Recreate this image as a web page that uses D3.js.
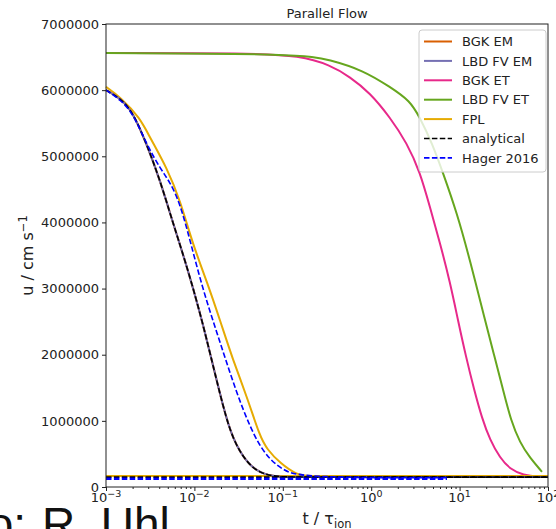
<!DOCTYPE html>
<html>
<head>
<meta charset="utf-8">
<script src="https://cdn.jsdelivr.net/npm/d3@7"></script>
<style>
  body { margin: 0; background: #fff; }
  svg { display: block; font-family: "DejaVu Sans", sans-serif; }
</style>
</head>
<body>
<div id="chart"></div>
<script>
// values, u in cm/s, t in units of tau_ion
const yTicks = [0, 1000000, 2000000, 3000000, 4000000, 5000000, 6000000, 7000000];
const xDecades = [-3, -2, -1, 0, 1, 2];

const emT = [0.001, 0.00144, 0.00202, 0.00291, 0.00408, 0.00573, 0.00825, 0.0116, 0.0150, 0.0211, 0.0273, 0.0394, 0.0552, 0.0859, 0.157, 100];
const emU = [6.00e6, 5.88e6, 5.67e6, 5.17e6, 4.64e6, 3.99e6, 3.33e6, 2.63e6, 2.03e6, 1.21e6, 0.71e6, 0.36e6, 0.21e6, 0.15e6, 0.15e6, 0.15e6];

const analyticalT = [0.001, 0.00144, 0.00202, 0.00291, 0.00408, 0.00573, 0.00825, 0.0116, 0.0150, 0.0211, 0.0273, 0.0394, 0.0552, 0.0859, 0.157, 100];
const analyticalU = [6.00e6, 5.88e6, 5.67e6, 5.17e6, 4.64e6, 3.99e6, 3.33e6, 2.63e6, 2.03e6, 1.21e6, 0.71e6, 0.36e6, 0.21e6, 0.15e6, 0.15e6, 0.15e6];

const bgkEtT = [0.001, 0.0426, 0.157, 0.342, 0.576, 0.969, 1.63, 2.54, 3.57, 4.62, 6.00, 7.78, 9.59, 11.8, 14.6, 17.9, 22.1, 28.6, 37.2, 52.1, 81.2, 100];
const bgkEtU = [6.56e6, 6.56e6, 6.52e6, 6.38e6, 6.20e6, 5.96e6, 5.59e6, 5.20e6, 4.76e6, 4.23e6, 3.69e6, 3.10e6, 2.52e6, 1.97e6, 1.47e6, 1.04e6, 0.71e6, 0.44e6, 0.27e6, 0.18e6, 0.15e6, 0.15e6];

const lbdEtT = [0.001, 0.157, 0.342, 0.808, 1.63, 2.75, 3.57, 4.88, 6.49, 9.35, 13.1, 19.4, 24.5, 31.0, 38.1, 48.2, 62.5, 85.5];
const lbdEtU = [6.56e6, 6.55e6, 6.46e6, 6.30e6, 6.05e6, 5.84e6, 5.58e6, 5.20e6, 4.75e6, 4.14e6, 3.43e6, 2.52e6, 2.00e6, 1.47e6, 1.00e6, 0.67e6, 0.44e6, 0.23e6];

const fplT = [0.001, 0.00144, 0.00243, 0.00315, 0.00490, 0.00687, 0.00964, 0.0139, 0.0195, 0.0273, 0.0394, 0.0552, 0.0663, 0.0930, 0.145, 0.203, 100];
const fplU = [6.05e6, 5.90e6, 5.58e6, 5.28e6, 4.82e6, 4.34e6, 3.66e6, 3.10e6, 2.52e6, 1.92e6, 1.36e6, 0.76e6, 0.57e6, 0.36e6, 0.18e6, 0.15e6, 0.15e6];

const hagerT = [0.001, 0.00144, 0.00202, 0.00291, 0.00408, 0.00530, 0.00687, 0.00892, 0.0125, 0.0180, 0.0253, 0.0355, 0.0511, 0.0716, 0.1005, 0.157, 7.2];
const hagerU = [6.00e6, 5.86e6, 5.65e6, 5.17e6, 4.82e6, 4.61e6, 4.29e6, 3.73e6, 2.98e6, 2.33e6, 1.72e6, 1.16e6, 0.68e6, 0.41e6, 0.26e6, 0.14e6, 0.14e6];

// flat runs along the bottom
const fplBaseT = [0.001, 100];
const fplBaseU = [0.165e6, 0.165e6];
const lbdBaseT = [10, 100];
const lbdBaseU = [0.15e6, 0.15e6];
const analyticalBaseT = [0.001, 100];
const analyticalBaseU = [0.15e6, 0.15e6];
const hagerBaseT = [0.001, 7.2];
const hagerBaseU = [0.125e6, 0.125e6];

const legendNames = ["BGK EM", "LBD FV EM", "BGK ET", "LBD FV ET", "FPL", "analytical", "Hager 2016"];

const colors = {
  "BGK EM": "#d95f02",
  "LBD FV EM": "#7570b3",
  "BGK ET": "#e7298a",
  "LBD FV ET": "#66a61e",
  "FPL": "#e6ab02",
  "analytical": "#000000",
  "Hager 2016": "#0000ff"
};
const dash = "5.5,2.4";

const W = 556, H = 529;
const plot = {left: 106, right: 548, top: 24, bottom: 487};

var x = d3.scaleLog().domain([1e-3, 1e2]).range([plot.left, plot.right]);
var y = d3.scaleLinear().domain([0, 7000000]).range([plot.bottom, plot.top]);

var svg = d3.select("#chart").append("svg")
    .attr("width", W)
    .attr("height", H);

const zip = (ts, us) => ts.map((t, i) => [t, us[i]]);

var line = d3.line()
    .x(d => x(d[0]))
    .y(d => y(d[1]))
    .curve(d3.curveBasis);

// drawing order, bottom to top
const layers = [
  {key: "BGK ET", pts: zip(bgkEtT, bgkEtU), w: 2},
  {key: "LBD FV ET", pts: zip(lbdEtT, lbdEtU), w: 2},
  {key: "FPL", pts: zip(fplBaseT, fplBaseU), w: 2},
  {key: "FPL", pts: zip(fplT, fplU), w: 2},
  {key: "LBD FV ET", pts: zip(lbdBaseT, lbdBaseU), w: 2},
  {key: "BGK EM", pts: zip(emT, emU), w: 2},
  {key: "LBD FV EM", pts: zip(emT, emU), w: 2},
  {key: "analytical", pts: zip(analyticalBaseT, analyticalBaseU), w: 1.6, dash: true},
  {key: "analytical", pts: zip(analyticalT, analyticalU), w: 1.6, dash: true},
  {key: "Hager 2016", pts: zip(hagerBaseT, hagerBaseU), w: 2.6, dash: true},
  {key: "Hager 2016", pts: zip(hagerT, hagerU), w: 1.6, dash: true}
];

var lines = svg.append("g");
layers.forEach(l => {
  lines.append("path")
      .attr("d", line(l.pts))
      .attr("fill", "none")
      .attr("stroke", colors[l.key])
      .attr("stroke-width", l.w)
      .attr("stroke-dasharray", l.dash ? dash : null);
});

// frame
svg.append("rect")
    .attr("x", plot.left)
    .attr("y", plot.top)
    .attr("width", plot.right - plot.left)
    .attr("height", plot.bottom - plot.top)
    .attr("fill", "none")
    .attr("stroke", "#222")
    .attr("stroke-width", 1);

// y axis
var yAxisG = svg.append("g")
    .attr("transform", `translate(${plot.left},0)`)
    .call(d3.axisLeft(y).tickValues(yTicks).tickFormat(d3.format("d")).tickSize(4).tickPadding(3));
yAxisG.select(".domain").remove();
yAxisG.selectAll("text").attr("font-size", 13).attr("fill", "#222").attr("font-family", "DejaVu Sans");
yAxisG.selectAll("line").attr("stroke", "#222");

// x axis, major and minor ticks
var majors = xDecades.map(e => Math.pow(10, e));
var minors = [];
xDecades.slice(0, -1).forEach(e => {
  for (let m = 2; m <= 9; m++) minors.push(m * Math.pow(10, e));
});

var xMajorG = svg.append("g")
    .attr("transform", `translate(0,${plot.bottom})`)
    .call(d3.axisBottom(x).tickValues(majors).tickFormat("").tickSize(4));
xMajorG.select(".domain").remove();
xMajorG.selectAll("line").attr("stroke", "#222");

var xMinorG = svg.append("g")
    .attr("transform", `translate(0,${plot.bottom})`)
    .call(d3.axisBottom(x).tickValues(minors).tickFormat("").tickSize(2));
xMinorG.select(".domain").remove();
xMinorG.selectAll("line").attr("stroke", "#222");

xDecades.forEach(e => {
  var t = svg.append("text")
      .attr("x", x(Math.pow(10, e)))
      .attr("y", 502)
      .attr("text-anchor", "middle")
      .attr("font-size", 13)
      .attr("fill", "#222");
  t.append("tspan").text("10");
  t.append("tspan").attr("dy", -5).attr("font-size", 9.5).text(e < 0 ? "\u2212" + (-e) : String(e));
});

// axis labels and title
var xl = svg.append("text")
    .attr("x", (plot.left + plot.right) / 2)
    .attr("y", 524)
    .attr("text-anchor", "middle")
    .attr("font-size", 16)
    .attr("fill", "#222");
xl.append("tspan").text("t / \u03c4");
xl.append("tspan").attr("dy", 4).attr("font-size", 11.5).text("ion");

var yl = svg.append("text")
    .attr("transform", `translate(33,${(plot.top + plot.bottom) / 2}) rotate(-90)`)
    .attr("text-anchor", "middle")
    .attr("font-size", 16)
    .attr("fill", "#222");
yl.append("tspan").text("u / cm s");
yl.append("tspan").attr("dy", -6).attr("font-size", 11.5).text("\u22121");

svg.append("text")
    .attr("x", (plot.left + plot.right) / 2)
    .attr("y", 18)
    .attr("text-anchor", "middle")
    .attr("font-size", 13)
    .attr("fill", "#222")
    .text("Parallel Flow");

// legend
var lg = svg.append("g");
lg.append("rect")
    .attr("x", 419).attr("y", 30)
    .attr("width", 127).attr("height", 142)
    .attr("rx", 3)
    .attr("fill", "#fff").attr("fill-opacity", 0.8)
    .attr("stroke", "#ccc");

legendNames.forEach((name, i) => {
  var ly = 41.5 + i * 19.4;
  var dashed = name === "analytical" || name === "Hager 2016";
  lg.append("line")
      .attr("x1", 424).attr("x2", 452)
      .attr("y1", ly).attr("y2", ly)
      .attr("stroke", colors[name])
      .attr("stroke-width", dashed ? 1.6 : 2)
      .attr("stroke-dasharray", dashed ? dash : null);
  lg.append("text")
      .attr("x", 462).attr("y", ly + 4.7)
      .attr("font-size", 13)
      .attr("fill", "#222")
      .text(name);
});

// photo credit cut off at the bottom edge
svg.append("text")
    .attr("x", 26).attr("y", 540)
    .attr("text-anchor", "end")
    .attr("font-family", "Liberation Sans")
    .attr("font-size", 46)
    .attr("fill", "#111")
    .text("Foto:");
svg.append("text")
    .attr("x", 42).attr("y", 540)
    .attr("font-family", "Liberation Sans")
    .attr("font-size", 46)
    .attr("fill", "#111")
    .text("R. Uhl");
</script>
</body>
</html>
